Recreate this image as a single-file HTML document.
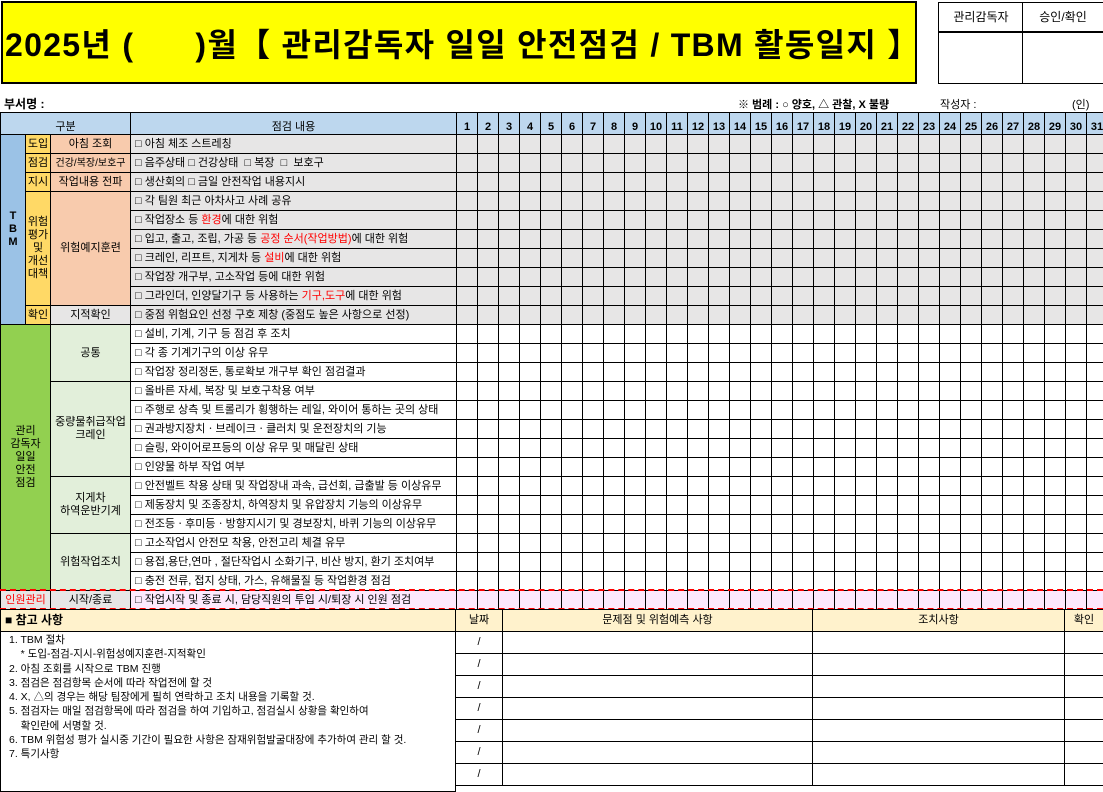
<!DOCTYPE html>
<html><head><meta charset="utf-8">
<style>
body{margin:0;width:1103px;height:784px;overflow:hidden;background:#fff;position:relative;font-family:"Liberation Sans","Noto Sans CJK KR","NanumGothic",sans-serif;color:#000}
.c{position:absolute;box-sizing:border-box;border:1px solid #000;display:flex;align-items:center;justify-content:center;font-size:11px;line-height:13px;text-align:center;white-space:nowrap;overflow:hidden}
.l{justify-content:flex-start;padding-left:4px}
.t{position:absolute;white-space:nowrap}
.r{color:#f00}
</style></head><body>
<div class="t" style="left:1px;top:1px;width:916px;height:83px;background:#ff0;border:2px solid #000;box-sizing:border-box;display:flex;align-items:center;padding-left:2px;font-weight:bold;font-size:32px;letter-spacing:1.3px;"><span>2025년 (&nbsp;&nbsp;&nbsp;&nbsp;&nbsp;&nbsp;)월【 관리감독자 일일 안전점검 / TBM 활동일지 】</span></div>
<div class="c" style="left:938px;top:2px;width:85px;height:31px;font-size:12px;border-width:1px 0 2px 1px">관리감독자</div>
<div class="c" style="left:1022px;top:2px;width:81px;height:31px;font-size:12px;border-width:1px 0 2px 1px">승인/확인</div>
<div class="c" style="left:938px;top:32px;width:85px;height:52px;border-width:0 0 1px 1px"></div>
<div class="c" style="left:1022px;top:32px;width:81px;height:52px;border-width:0 0 1px 1px"></div>
<div class="t" style="left:4px;top:95px;font-size:12px;font-weight:bold">부서명 :</div>
<div class="t" style="left:738px;top:96px;font-size:11px;font-weight:bold">※ 범례 : ○ 양호, △ 관찰, X 불량</div>
<div class="t" style="left:940px;top:96px;font-size:11px">작성자 :</div>
<div class="t" style="left:1072px;top:96px;font-size:11px">(인)</div>
<div id="grid"></div>
<script>
const G=document.getElementById('grid');
function cell(x,y,w,h,html,bg,cls){const d=document.createElement('div');d.className='c '+(cls||'');d.style.cssText=`left:${x}px;top:${y}px;width:${w+1}px;height:${h+1}px;background:${bg||'#fff'}`;d.innerHTML=html?'<span>'+html+'</span>':'';G.appendChild(d);return d;}
const days=[];for(let i=1;i<=31;i++)days.push(i);
const DX=456,DW=21,RH=19;
let e;
e=cell(0,112,130,22,'구분','#bdd7ee');e.style.alignItems='flex-end';


e=cell(130,112,326,22,'점검 내용','#bdd7ee');e.style.alignItems='flex-end';


days.forEach((d,i)=>{const c=cell(DX+i*DW,112,DW,22,'<b>'+d+'</b>','#bdd7ee');c.style.alignItems='flex-end';

});
const rows=[
['□ 아침 체조 스트레칭','#e7e6e6'],
['□ 음주상태 □ 건강상태 &nbsp;□ 복장 &nbsp;□ &nbsp;보호구','#e7e6e6'],
['□ 생산회의 □ 금일 안전작업 내용지시','#e7e6e6'],
['□ 각 팀원 최근 아차사고 사례 공유','#e7e6e6'],
['□ 작업장소 등 <span class="r">환경</span>에 대한 위험','#e7e6e6'],
['□ 입고, 출고, 조립, 가공 등 <span class="r">공정 순서(작업방법)</span>에 대한 위험','#e7e6e6'],
['□ 크레인, 리프트, 지게차 등 <span class="r">설비</span>에 대한 위험','#e7e6e6'],
['□ 작업장 개구부, 고소작업 등에 대한 위험','#e7e6e6'],
['□ 그라인더, 인양달기구 등 사용하는 <span class="r">기구,도구</span>에 대한 위험','#e7e6e6'],
['□ 중점 위험요인 선정 구호 제창 (중점도 높은 사항으로 선정)','#e7e6e6'],
['□ 설비, 기계, 기구 등 점검 후 조치','#fff'],
['□ 각 종 기계기구의 이상 유무','#fff'],
['□ 작업장 정리정돈, 통로확보 개구부 확인 점검결과','#fff'],
['□ 올바른 자세, 복장 및 보호구착용 여부','#fff'],
['□ 주행로 상측 및 트롤리가 횡행하는 레일, 와이어 통하는 곳의 상태','#fff'],
['□ 권과방지장치ㆍ브레이크ㆍ클러치 및 운전장치의 기능','#fff'],
['□ 슬링, 와이어로프등의 이상 유무 및 매달린 상태','#fff'],
['□ 인양물 하부 작업 여부','#fff'],
['□ 안전벨트 착용 상태 및 작업장내 과속, 급선회, 급출발 등 이상유무','#fff'],
['□ 제동장치 및 조종장치, 하역장치 및 유압장치 기능의 이상유무','#fff'],
['□ 전조등ㆍ후미등ㆍ방향지시기 및 경보장치, 바퀴 기능의 이상유무','#fff'],
['□ 고소작업시 안전모 착용, 안전고리 체결 유무','#fff'],
['□ 용접,용단,연마 , 절단작업시 소화기구, 비산 방지, 환기 조치여부','#fff'],
['□ 충전 전류, 접지 상태, 가스, 유해물질 등 작업환경 점검','#fff'],
['□ 작업시작 및 종료 시, 담당직원의 투입 시/퇴장 시 인원 점검','#fde9fd']
];
const Y0=134;
rows.forEach((r,i)=>{const y=Y0+i*RH;
const c=cell(130,y,326,RH,r[0],r[1],'l');


days.forEach((d,j)=>{const k=cell(DX+j*DW,y,DW,RH,'',r[1]);

});});
function L(x,y,w,h,t,bg,name){const c=cell(x,Y0+y*RH,w,h*RH,t,bg);c.style.whiteSpace='normal';

return c;}
L(0,0,25,10,'<b>T<br>B<br>M</b>','#9bc2e6','tbm-label');
L(25,0,25,1,'도입','#ffd966','intro-label');
L(50,0,80,1,'아침 조회','#f8cbad','morning-meeting');
L(25,1,25,1,'점검','#ffd966','inspect-label');
e=L(50,1,80,1,'건강/복장/보호구','#f8cbad','health-check');e.style.fontSize='10px';e.style.whiteSpace='nowrap';
L(25,2,25,1,'지시','#ffd966','instruct-label');
L(50,2,80,1,'작업내용 전파','#f8cbad','work-propagation');
L(25,3,25,6,'위험<br>평가<br>및<br>개선<br>대책','#ffd966','risk-eval-label');
L(50,3,80,6,'위험예지훈련','#f8cbad','risk-training');
L(25,9,25,1,'확인','#ffd966','confirm-label');
L(50,9,80,1,'지적확인','#e7e6e6','point-confirm');
L(0,10,50,14,'관리<br>감독자<br>일일<br>안전<br>점검','#92d050','supervisor-label');
L(50,10,80,3,'공통','#e2efda','common-group');
L(50,13,80,5,'중량물취급작업<br>크레인','#e2efda','crane-group');
L(50,18,80,3,'지게차<br>하역운반기계','#e2efda','forklift-group');
L(50,21,80,3,'위험작업조치','#e2efda','risk-work-group');
e=L(0,24,50,1,'인원관리','#e7e6e6','personnel-label');e.style.color='#f00';
L(50,24,80,1,'시작/종료','#e7e6e6','start-end');
[Y0+24*RH,Y0+25*RH].forEach(y=>{const d=document.createElement('div');d.style.cssText=`position:absolute;left:0;top:${y-1}px;width:1103px;border-top:2px dashed #f00`;


G.appendChild(d);});
const RY=609;
e=cell(0,RY,455,22,'<b>■ 참고 사항</b>','#fff2cc','l');e.style.fontSize='12px';


[[455,47,'날짜','date-header'],[502,310,'문제점 및 위험예측 사항','issue-header'],[812,252,'조치사항','action-header'],[1064,39,'확인','check-header']].forEach(a=>{const c=cell(a[0],RY,a[1],22,a[2],'#fff2cc');

});
e=cell(0,631,455,160,'','#fff');e.style.display='block';e.style.textAlign='left';e.style.whiteSpace='pre';e.style.fontSize='10.5px';e.style.lineHeight='14.3px';e.style.padding='1px 0 0 8px';
e.textContent='1. TBM 절차\n    * 도입-점검-지시-위험성예지훈련-지적확인\n2. 아침 조회를 시작으로 TBM 진행\n3. 점검은 점검항목 순서에 따라 작업전에 할 것\n4. X, △의 경우는 해당 팀장에게 필히 연락하고 조치 내용을 기록할 것.\n5. 점검자는 매일 점검항목에 따라 점검을 하여 기입하고, 점검실시 상황을 확인하여\n    확인란에 서명할 것.\n6. TBM 위험성 평가 실시중 기간이 필요한 사항은 잠재위험발굴대장에 추가하여 관리 할 것.\n7. 특기사항';


for(let i=0;i<7;i++){const y=631+i*22;
[[455,47,'/'],[502,310,''],[812,252,''],[1064,39,'']].forEach(a=>{const c=cell(a[0],y,a[1],22,a[2],'#fff');

});}
</script>
</body></html>
